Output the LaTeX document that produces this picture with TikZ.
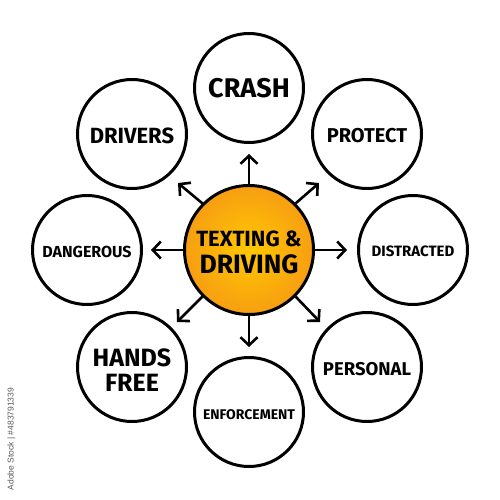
\documentclass[tikz,border=0pt]{standalone}
\usepackage{fontspec}
\setmainfont{Fira Sans}
\newfontfamily\wmfont{Liberation Sans}
\usetikzlibrary{arrows.meta}
\definecolor{orin}{RGB}{255,200,0}
\definecolor{orout}{RGB}{247,158,18}
\tikzset{
  outer/.style={circle, draw=black, line width=3pt, minimum size=109pt, inner sep=0pt, align=center, font=\bfseries},
  hub/.style={circle, draw=black, line width=3pt, minimum size=129pt, inner sep=0pt, align=center, font=\bfseries, inner color=orin, outer color=orout},
  arr/.style={line width=2.6pt, -{Straight Barb[length=8pt,width=17pt,line width=2.6pt]}},
  lab/.style={font=\bfseries}
}
\begin{document}
\begin{tikzpicture}[x=1pt,y=-1pt]
\useasboundingbox (0,0) rectangle (500,500);
\fill[white] (0,0) rectangle (500,500);
% hub
\coordinate (tN) at (249,154);
\coordinate (tS) at (249,347);
\coordinate (tE) at (347,250);
\coordinate (tW) at (151,250);
\coordinate (tNE) at (319,183);
\coordinate (tNW) at (178,183);
\coordinate (tSE) at (320,322);
\coordinate (tSW) at (177,322);
\node[hub] (c) at (249,250) {};
\draw[arr] (c.north) -- (tN);
\draw[arr] (c.south) -- (tS);
\draw[arr] (c.east) -- (tE);
\draw[arr] (c.west) -- (tW);
\draw[arr] (c.north east) -- (tNE);
\draw[arr] (c.north west) -- (tNW);
\draw[arr] (c.south east) -- (tSE);
\draw[arr] (c.south west) -- (tSW);
\node[font=\bfseries\fontsize{22}{22}\selectfont] (ct1) at (249,239) {TEXTING \&};
\node[font=\bfseries\fontsize{26.5}{26.5}\selectfont] (ct2) at (249,264) {DRIVING};
% outer circles
\node[outer] (crash) at (249,88) {};
\node[outer] (protect) at (367,134) {};
\node[outer] (distr) at (413,250) {};
\node[outer] (pers) at (367,367) {};
\node[outer] (enf) at (249,412) {};
\node[outer] (hands) at (132,367) {};
\node[outer] (dang) at (87,250) {};
\node[outer] (drv) at (132,134) {};
% labels
\node[font=\bfseries\fontsize{27}{27}\selectfont] (crashL) at (249,88) {CRASH};
\node[font=\bfseries\fontsize{20}{20}\selectfont] (protectL) at (367,136) {PROTECT};
\node[font=\bfseries\fontsize{15}{15}\selectfont] (distrL) at (413,251) {DISTRACTED};
\node[font=\bfseries\fontsize{18.5}{18.5}\selectfont] (persL) at (367,369) {PERSONAL};
\node[font=\bfseries\fontsize{14}{14}\selectfont] (enfL) at (249,415) {ENFORCEMENT};
\node[font=\bfseries\fontsize{25}{25}\selectfont, align=center] (handsL) at (132,370) {HANDS\\FREE};
\node[font=\bfseries\fontsize{16}{16}\selectfont] (dangL) at (87,252) {DANGEROUS};
\node[font=\bfseries\fontsize{22}{22}\selectfont] (drvL) at (132,136) {DRIVERS};
% watermark
\node[rotate=90, text=gray!70!black, font=\wmfont\fontsize{8.5}{8.5}\selectfont] (wm) at (11.5,439) {Adobe Stock | \#483791339};
\end{tikzpicture}
\end{document}
